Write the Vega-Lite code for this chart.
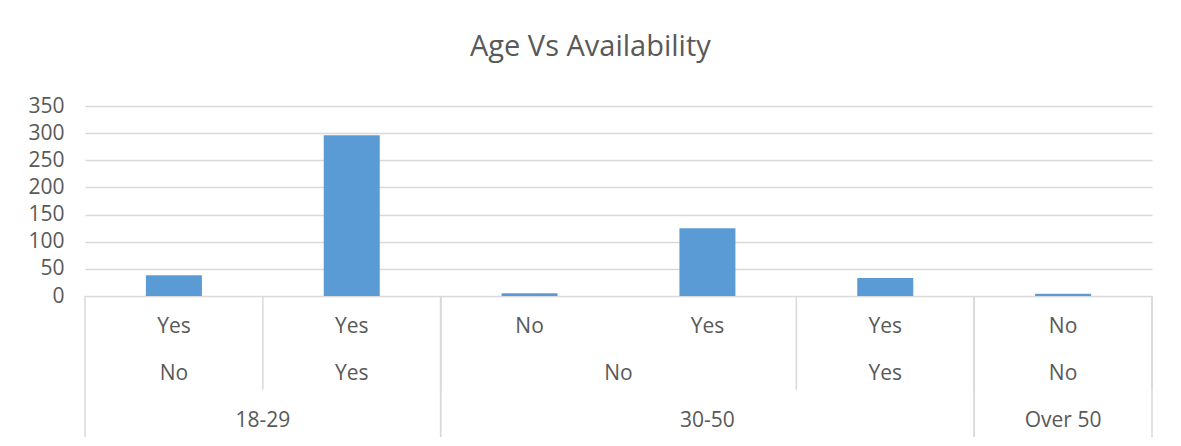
{
  "$schema": "https://vega.github.io/schema/vega-lite/v6.json",
  "padding": {"left": 27, "top": 32, "right": 29, "bottom": 5},
  "background": "white",
  "bounds": "flush",
  "config": {"view": {"stroke": null}, "font": "Open Sans"},
  "title": {"text": "Age Vs Availability", "fontSize": 29, "font": "Open Sans", "fontWeight": "normal", "color": "#595959", "anchor": "middle", "frame": "bounds", "offset": 33.5},
  "datasets": {
    "counts": [
      {"age": "18-29", "available": "No", "answer": "Yes", "count": 38},
      {"age": "18-29", "available": "Yes", "answer": "Yes", "count": 296},
      {"age": "30-50", "available": "No", "answer": "No", "count": 5},
      {"age": "30-50", "available": "No", "answer": "Yes", "count": 125},
      {"age": "30-50", "available": "Yes", "answer": "Yes", "count": 33},
      {"age": "Over 50", "available": "No", "answer": "No", "count": 4}
    ]
  },
  "spacing": 0,
  "vconcat": [
    {
      "width": 1067,
      "height": 190,
      "data": {"name": "counts"},
      "transform": [{"window": [{"op": "row_number", "as": "idx"}]}],
      "mark": {"type": "bar", "color": "#5b9bd5"},
      "encoding": {
        "x": {"field": "idx", "type": "ordinal", "axis": null, "scale": {"paddingInner": 0.685, "paddingOuter": 0.3425}},
        "y": {
          "field": "count", "type": "quantitative",
          "scale": {"domain": [0, 350]},
          "axis": {"values": [0, 50, 100, 150, 200, 250, 300, 350], "title": null, "domain": false, "ticks": false, "grid": true, "gridColor": "#d9d9d9", "gridWidth": 1.5, "labelFont": "Open Sans", "labelFontSize": 21, "labelColor": "#595959", "labelPadding": 21}
        }
      }
    },
    {
      "width": 1067,
      "height": 141,
      "data": {"name": "counts"},
      "transform": [{"window": [{"op": "row_number", "as": "idx"}]}],
      "encoding": {
        "x": {"field": "x", "type": "quantitative", "scale": {"domain": [0, 6]}, "axis": null}
      },
      "layer": [
        {
          "transform": [{"calculate": "datum.idx - 0.5", "as": "x"}],
          "mark": {"type": "text", "font": "Open Sans", "fontSize": 21, "color": "#595959", "align": "center", "baseline": "middle", "dy": 7},
          "encoding": {
            "y": {"datum": 0.5, "type": "quantitative", "scale": {"domain": [0, 3], "reverse": true}, "axis": null},
            "text": {"field": "answer"}
          }
        },
        {
          "transform": [
            {"aggregate": [{"op": "min", "field": "idx", "as": "lo"}, {"op": "max", "field": "idx", "as": "hi"}], "groupby": ["age", "available"]},
            {"calculate": "(datum.lo - 1 + datum.hi) / 2", "as": "x"}
          ],
          "mark": {"type": "text", "font": "Open Sans", "fontSize": 21, "color": "#595959", "align": "center", "baseline": "middle", "dy": 7},
          "encoding": {
            "y": {"datum": 1.5, "type": "quantitative", "scale": {"domain": [0, 3], "reverse": true}, "axis": null},
            "text": {"field": "available"}
          }
        },
        {
          "transform": [
            {"aggregate": [{"op": "min", "field": "idx", "as": "lo"}, {"op": "max", "field": "idx", "as": "hi"}], "groupby": ["age"]},
            {"calculate": "(datum.lo - 1 + datum.hi) / 2", "as": "x"}
          ],
          "mark": {"type": "text", "font": "Open Sans", "fontSize": 21, "color": "#595959", "align": "center", "baseline": "middle", "dy": 7},
          "encoding": {
            "y": {"datum": 2.5, "type": "quantitative", "scale": {"domain": [0, 3], "reverse": true}, "axis": null},
            "text": {"field": "age"}
          }
        },
        {
          "transform": [
            {"aggregate": [{"op": "max", "field": "idx", "as": "x"}], "groupby": ["age", "available"]}
          ],
          "mark": {"type": "rule", "color": "#d9d9d9", "strokeWidth": 1.5},
          "encoding": {
            "y": {"datum": 0, "type": "quantitative", "scale": {"domain": [0, 3], "reverse": true}, "axis": null},
            "y2": {"datum": 2}
          }
        },
        {
          "transform": [
            {"aggregate": [{"op": "max", "field": "idx", "as": "x"}], "groupby": ["age"]}
          ],
          "mark": {"type": "rule", "color": "#d9d9d9", "strokeWidth": 1.5},
          "encoding": {
            "y": {"datum": 0, "type": "quantitative", "scale": {"domain": [0, 3], "reverse": true}, "axis": null},
            "y2": {"datum": 3}
          }
        },
        {
          "transform": [
            {"aggregate": [{"op": "min", "field": "idx", "as": "lo"}], "groupby": ["age"]},
            {"calculate": "datum.lo - 1", "as": "x"}
          ],
          "mark": {"type": "rule", "color": "#d9d9d9", "strokeWidth": 1.5},
          "encoding": {
            "y": {"datum": 0, "type": "quantitative", "scale": {"domain": [0, 3], "reverse": true}, "axis": null},
            "y2": {"datum": 3}
          }
        }
      ]
    }
  ]
}
